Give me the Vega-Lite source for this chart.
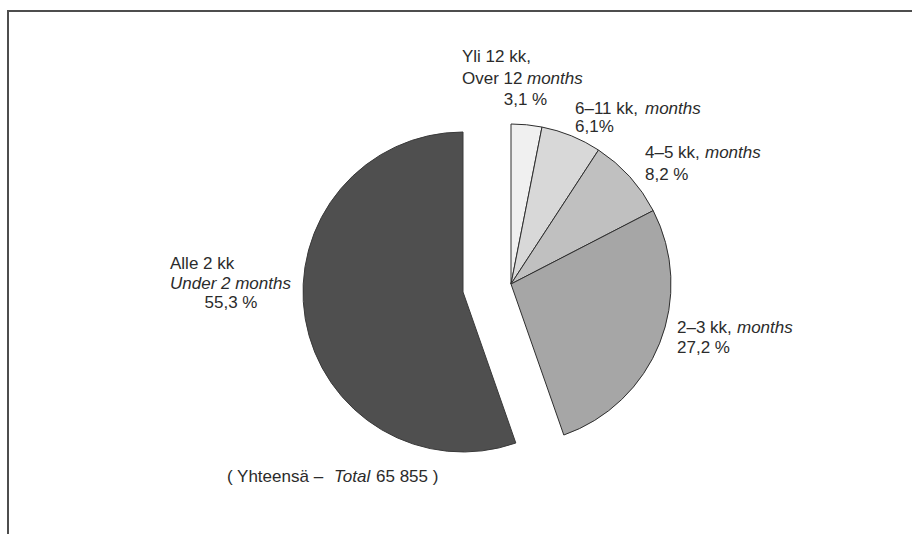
{
  "$schema": "https://vega.github.io/schema/vega-lite/v6.json",
  "width": 904,
  "height": 523,
  "autosize": {"type": "none"},
  "padding": {"left": 8, "top": 11, "right": 0, "bottom": 0},
  "background": "white",
  "config": {
    "view": {"stroke": null},
    "text": {"font": "Liberation Sans", "fontSize": 17, "color": "#2b2b2b", "baseline": "alphabetic"}
  },
  "data": {
    "values": [
      {"cat": "Yli 12 kk", "en": "Over 12 months", "pct": 3.1},
      {"cat": "6–11 kk", "en": "6–11 months", "pct": 6.1},
      {"cat": "4–5 kk", "en": "4–5 months", "pct": 8.2},
      {"cat": "2–3 kk", "en": "2–3 months", "pct": 27.2},
      {"cat": "Alle 2 kk", "en": "Under 2 months", "pct": 55.3}
    ]
  },
  "layer": [
    {
      "mark": {"type": "arc", "outerRadius": 160, "stroke": "#2e2e2e", "strokeWidth": 1},
      "encoding": {
        "theta": {"field": "pct", "type": "quantitative", "stack": true},
        "order": {"field": "pct", "sort": "ascending"},
        "color": {
          "field": "cat", "type": "nominal", "legend": null,
          "scale": {
            "domain": ["Yli 12 kk", "6–11 kk", "4–5 kk", "2–3 kk", "Alle 2 kk"],
            "range": ["#f0f0f0", "#d8d8d8", "#c0c0c0", "#a6a6a6", "#4f4f4f"]
          }
        },
        "opacity": {"condition": {"test": "datum.cat === 'Alle 2 kk'", "value": 0}, "value": 1},
        "x": {
          "datum": 0, "type": "quantitative",
          "scale": {"domain": [-314.375, 250.625], "nice": false, "zero": false},
          "axis": null
        },
        "y": {
          "datum": 0, "type": "quantitative",
          "scale": {"domain": [-156.25, 170.625], "nice": false, "zero": false},
          "axis": null
        }
      }
    },
    {
      "mark": {"type": "arc", "outerRadius": 160, "stroke": "#3a3a3a", "strokeWidth": 1},
      "encoding": {
        "theta": {"field": "pct", "type": "quantitative", "stack": true},
        "order": {"field": "pct", "sort": "ascending"},
        "color": {"field": "cat", "type": "nominal", "legend": null},
        "opacity": {"condition": {"test": "datum.cat === 'Alle 2 kk'", "value": 1}, "value": 0},
        "x": {"datum": -30, "type": "quantitative", "axis": null},
        "y": {"datum": -5, "type": "quantitative", "axis": null}
      }
    },
    {
      "transform": [{"filter": "datum.cat === 'Alle 2 kk'"}],
      "mark": {"type": "rule", "color": "#4d4d4d", "strokeWidth": 2, "strokeCap": "square"},
      "encoding": {
        "x": {"datum": -314.375, "type": "quantitative", "axis": null},
        "x2": {"datum": 250.625},
        "y": {"datum": 170.625, "type": "quantitative", "axis": null}
      }
    },
    {
      "transform": [{"filter": "datum.cat === 'Alle 2 kk'"}],
      "mark": {"type": "rule", "color": "#4d4d4d", "strokeWidth": 2, "strokeCap": "square"},
      "encoding": {
        "x": {"datum": -314.375, "type": "quantitative", "axis": null},
        "y": {"datum": -156.25, "type": "quantitative", "axis": null},
        "y2": {"datum": 170.625}
      }
    },
    {
      "transform": [{"filter": "datum.cat === 'Yli 12 kk'"}],
      "mark": {"type": "text", "align": "left", "lineHeight": 22},
      "encoding": {
        "text": {"value": ["Yli 12 kk,", "Over 12"]},
        "x": {"datum": -30.625, "type": "quantitative", "axis": null},
        "y": {"datum": 138.75, "type": "quantitative", "axis": null}
      }
    },
    {
      "transform": [{"filter": "datum.cat === 'Yli 12 kk'"}],
      "mark": {"type": "text", "align": "left", "fontStyle": "italic"},
      "encoding": {
        "text": {"value": "months"},
        "x": {"datum": 10, "type": "quantitative", "axis": null},
        "y": {"datum": 125, "type": "quantitative", "axis": null}
      }
    },
    {
      "transform": [{"filter": "datum.cat === 'Yli 12 kk'"}],
      "mark": {"type": "text", "align": "center"},
      "encoding": {
        "text": {"value": "3,1 %"},
        "x": {"datum": 9.0625, "type": "quantitative", "axis": null},
        "y": {"datum": 111.875, "type": "quantitative", "axis": null}
      }
    },
    {
      "transform": [{"filter": "datum.cat === '6–11 kk'"}],
      "mark": {"type": "text", "align": "left", "lineHeight": 18},
      "encoding": {
        "text": {"value": ["6–11 kk,", "6,1%"]},
        "x": {"datum": 40, "type": "quantitative", "axis": null},
        "y": {"datum": 106.25, "type": "quantitative", "axis": null}
      }
    },
    {
      "transform": [{"filter": "datum.cat === '6–11 kk'"}],
      "mark": {"type": "text", "align": "left", "fontStyle": "italic"},
      "encoding": {
        "text": {"value": "months"},
        "x": {"datum": 83.75, "type": "quantitative", "axis": null},
        "y": {"datum": 106.25, "type": "quantitative", "axis": null}
      }
    },
    {
      "transform": [{"filter": "datum.cat === '4–5 kk'"}],
      "mark": {"type": "text", "align": "left", "lineHeight": 22},
      "encoding": {
        "text": {"value": ["4–5 kk,", "8,2 %"]},
        "x": {"datum": 83.75, "type": "quantitative", "axis": null},
        "y": {"datum": 78.75, "type": "quantitative", "axis": null}
      }
    },
    {
      "transform": [{"filter": "datum.cat === '4–5 kk'"}],
      "mark": {"type": "text", "align": "left", "fontStyle": "italic"},
      "encoding": {
        "text": {"value": "months"},
        "x": {"datum": 121.25, "type": "quantitative", "axis": null},
        "y": {"datum": 78.75, "type": "quantitative", "axis": null}
      }
    },
    {
      "transform": [{"filter": "datum.cat === '2–3 kk'"}],
      "mark": {"type": "text", "align": "left", "lineHeight": 19.5},
      "encoding": {
        "text": {"value": ["2–3 kk,", "27,2 %"]},
        "x": {"datum": 103.75, "type": "quantitative", "axis": null},
        "y": {"datum": -30.625, "type": "quantitative", "axis": null}
      }
    },
    {
      "transform": [{"filter": "datum.cat === '2–3 kk'"}],
      "mark": {"type": "text", "align": "left", "fontStyle": "italic"},
      "encoding": {
        "text": {"value": "months"},
        "x": {"datum": 141.25, "type": "quantitative", "axis": null},
        "y": {"datum": -30.625, "type": "quantitative", "axis": null}
      }
    },
    {
      "transform": [{"filter": "datum.cat === 'Alle 2 kk'"}],
      "mark": {"type": "text", "align": "left"},
      "encoding": {
        "text": {"value": "Alle 2 kk"},
        "x": {"datum": -213.125, "type": "quantitative", "axis": null},
        "y": {"datum": 9.375, "type": "quantitative", "axis": null}
      }
    },
    {
      "transform": [{"filter": "datum.cat === 'Alle 2 kk'"}],
      "mark": {"type": "text", "align": "left", "fontStyle": "italic"},
      "encoding": {
        "text": {"field": "en"},
        "x": {"datum": -213.125, "type": "quantitative", "axis": null},
        "y": {"datum": -3.125, "type": "quantitative", "axis": null}
      }
    },
    {
      "transform": [{"filter": "datum.cat === 'Alle 2 kk'"}],
      "mark": {"type": "text", "align": "center"},
      "encoding": {
        "text": {"value": "55,3 %"},
        "x": {"datum": -175, "type": "quantitative", "axis": null},
        "y": {"datum": -15, "type": "quantitative", "axis": null}
      }
    },
    {
      "transform": [{"filter": "datum.cat === 'Alle 2 kk'"}],
      "mark": {"type": "text", "align": "left"},
      "encoding": {
        "text": {"value": "( Yhteensä –"},
        "x": {"datum": -177.5, "type": "quantitative", "axis": null},
        "y": {"datum": -123.75, "type": "quantitative", "axis": null}
      }
    },
    {
      "transform": [{"filter": "datum.cat === 'Alle 2 kk'"}],
      "mark": {"type": "text", "align": "left", "fontStyle": "italic"},
      "encoding": {
        "text": {"value": "Total"},
        "x": {"datum": -110.625, "type": "quantitative", "axis": null},
        "y": {"datum": -123.75, "type": "quantitative", "axis": null}
      }
    },
    {
      "transform": [{"filter": "datum.cat === 'Alle 2 kk'"}],
      "mark": {"type": "text", "align": "left"},
      "encoding": {
        "text": {"value": "65 855 )"},
        "x": {"datum": -84.375, "type": "quantitative", "axis": null},
        "y": {"datum": -123.75, "type": "quantitative", "axis": null}
      }
    }
  ]
}
